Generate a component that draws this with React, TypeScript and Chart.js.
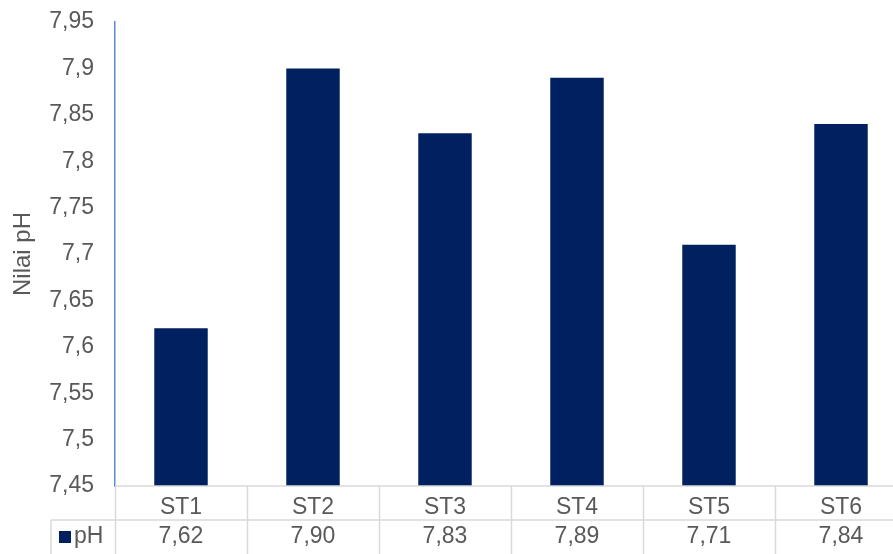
import React, { useEffect, useRef } from "react";
import { Chart, registerables } from "chart.js";

Chart.register(...registerables);

const categories = ["ST1", "ST2", "ST3", "ST4", "ST5", "ST6"];
const seriesName = "pH";
const phValues = [7.62, 7.9, 7.83, 7.89, 7.71, 7.84];
const yMin = 7.45;
const yMax = 7.95;
const yStep = 0.05;
const yTitle = "Nilai pH";

const FONT = "'Liberation Sans', Arial, sans-serif";
const TEXT = "#595959";
const BAR = "#002060";
const GRID = "#d9d9d9";
const AXIS = "#5b8ed6";

const fmtTick = (v: number) => String(parseFloat(v.toFixed(2))).replace(".", ",");
const fmtVal = (v: number) => v.toFixed(2).replace(".", ",");

const tablePlugin = {
  id: "dataTable",
  afterDraw(chart: any) {
    const { ctx, chartArea, scales } = chart;
    const x = scales.x;
    const H = chart.height;
    const W = chart.width;
    const rowTop = chartArea.bottom;
    const row2Top = 520;
    const legendLeft = 51;
    const n = categories.length;
    const cw = x.width / n;
    ctx.save();
    ctx.strokeStyle = GRID;
    ctx.lineWidth = 1.5;
    ctx.beginPath();
    ctx.moveTo(chartArea.left, rowTop);
    ctx.lineTo(W, rowTop);
    ctx.moveTo(legendLeft, row2Top);
    ctx.lineTo(W, row2Top);
    ctx.moveTo(legendLeft, row2Top);
    ctx.lineTo(legendLeft, H);
    for (let i = 0; i <= n; i++) {
      const px = Math.round(x.left + i * cw) + 0.5;
      ctx.moveTo(px, rowTop);
      ctx.lineTo(px, H);
    }
    ctx.stroke();

    ctx.fillStyle = BAR;
    ctx.fillRect(59, 531, 12, 12);
    ctx.fillStyle = TEXT;
    ctx.font = `23px ${FONT}`;
    ctx.textBaseline = "middle";
    ctx.textAlign = "left";
    ctx.fillText(seriesName, 74, 537);

    ctx.textAlign = "center";
    phValues.forEach((v, i) => {
      ctx.fillText(fmtVal(v), x.getPixelForValue(i), 537);
    });
    ctx.restore();
  },
};

export default function App() {
  const ref = useRef<HTMLCanvasElement | null>(null);
  useEffect(() => {
    if (!ref.current) return;
    const chart = new Chart(ref.current, {
      type: "bar",
      data: {
        labels: categories,
        datasets: [
          {
            label: seriesName,
            data: phValues,
            backgroundColor: BAR,
            borderWidth: 0,
            categoryPercentage: 1,
            barPercentage: 0.405,
          },
        ],
      },
      options: {
        responsive: false,
        animation: false,
        layout: { padding: { top: 22, right: 13, left: 0, bottom: 0 } },
        plugins: { legend: { display: false }, tooltip: { enabled: false } },
        scales: {
          x: {
            grid: { display: false, drawTicks: false },
            border: { display: false },
            ticks: { color: TEXT, font: { family: FONT, size: 23 }, padding: 8, maxRotation: 0 },
            afterFit: (s: any) => {
              s.height = 68;
              s.paddingLeft = 0;
              s.paddingRight = 0;
            },
          },
          y: {
            min: yMin,
            max: yMax,
            grid: { display: false, drawTicks: false },
            border: { display: true, color: AXIS, width: 1.5 },
            ticks: {
              stepSize: yStep,
              color: TEXT,
              font: { family: FONT, size: 23 },
              padding: 21,
              callback: (v: any) => fmtTick(Number(v)),
            },
            title: {
              display: true,
              text: yTitle,
              color: TEXT,
              font: { family: FONT, size: 24, weight: "normal" },
              padding: { top: 9, bottom: 0 },
            },
            afterFit: (s: any) => {
              s.width = 115;
              s.paddingTop = 0;
              s.paddingBottom = 0;
            },
          },
        },
      },
      plugins: [tablePlugin],
    });
    return () => chart.destroy();
  }, []);
  return (
    <div style={{ position: "absolute", left: 0, top: 0, width: 893, height: 554, overflow: "hidden", background: "#fff" }}>
      <canvas ref={ref} width={920} height={554} style={{ display: "block" }} />
    </div>
  );
}
